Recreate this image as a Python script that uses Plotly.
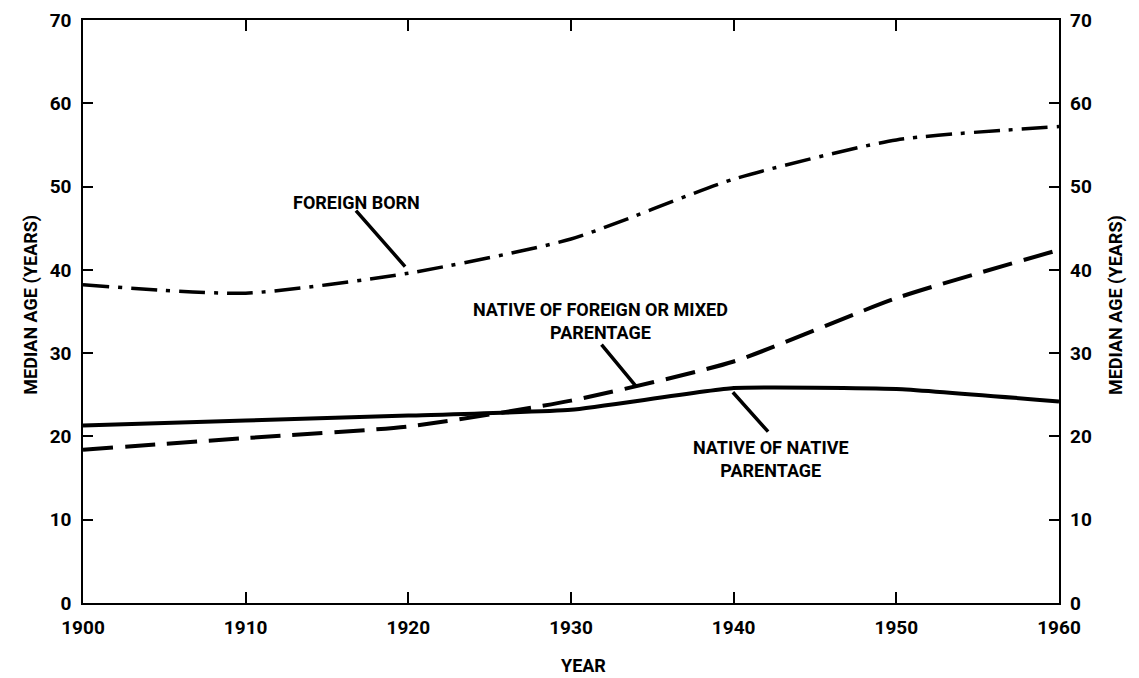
import plotly.graph_objects as go

years = [1900, 1910, 1920, 1930, 1940, 1950, 1960]
foreign_born = [38.2, 37.2, 39.6, 43.7, 50.9, 55.6, 57.2]
native_foreign_mixed = [18.4, 19.8, 21.2, 24.3, 29.0, 36.6, 42.4]
native_native = [21.3, 21.9, 22.5, 23.2, 25.8, 25.7, 24.2]

x_ticks = [1900, 1910, 1920, 1930, 1940, 1950, 1960]
y_ticks = [0, 10, 20, 30, 40, 50, 60, 70]

FONT = "Roboto, Liberation Sans, sans-serif"

fig = go.Figure()
fig.add_trace(go.Scatter(x=years, y=foreign_born, mode="lines",
                         line=dict(color="black", width=3.5, dash="26px,9px,4px,9px",
                                   shape="spline", smoothing=0.6),
                         name="Foreign born", hoverinfo="skip"))
fig.add_trace(go.Scatter(x=years, y=native_foreign_mixed, mode="lines",
                         line=dict(color="black", width=4, dash="30px,12px",
                                   shape="spline", smoothing=0.6),
                         name="Native of foreign or mixed parentage", hoverinfo="skip"))
fig.add_trace(go.Scatter(x=years, y=native_native, mode="lines",
                         line=dict(color="black", width=4, shape="spline", smoothing=0.4),
                         name="Native of native parentage", hoverinfo="skip"))
# invisible copy to activate the right-hand axis
fig.add_trace(go.Scatter(x=years, y=native_native, mode="lines", yaxis="y2",
                         line=dict(color="rgba(0,0,0,0)", width=0),
                         showlegend=False, hoverinfo="skip"))

tickfont = dict(family=FONT, size=19, color="black", weight="bold")

fig.update_layout(
    width=1131, height=670,
    margin=dict(l=75, r=80, t=12, b=75, autoexpand=False),
    paper_bgcolor="white", plot_bgcolor="white",
    showlegend=False,
    xaxis=dict(range=[1900, 1960], tickvals=x_ticks, ticktext=[str(v) for v in x_ticks],
               ticks="inside", ticklen=11, tickwidth=1.5, tickcolor="black",
               showline=True, linecolor="black", linewidth=1.5, mirror="ticks",
               showgrid=False, zeroline=False, tickfont=tickfont,
               ticklabelstandoff=6, automargin=False, ticklabeloverflow="allow"),
    yaxis=dict(range=[0, 70], tickvals=y_ticks, ticktext=[str(v) for v in y_ticks],
               ticks="inside", ticklen=10, tickwidth=1.5, tickcolor="black",
               showline=True, linecolor="black", linewidth=1.5, mirror="ticks",
               showgrid=False, zeroline=False, tickfont=tickfont,
               ticklabelstandoff=6, automargin=False, ticklabeloverflow="allow"),
    yaxis2=dict(range=[0, 70], tickvals=y_ticks, ticktext=[str(v) for v in y_ticks],
                overlaying="y", side="right", ticks="", showline=False,
                showgrid=False, zeroline=False, tickfont=tickfont,
                ticklabelstandoff=10, automargin=False, ticklabeloverflow="allow"),
)

lab = dict(family=FONT, size=18, color="black", weight="bold")
ttl = dict(family=FONT, size=18, color="black", weight="bold")

# axis titles
fig.add_annotation(text="YEAR", xref="paper", yref="paper", x=0.513, y=-0.108,
                   showarrow=False, font=ttl, yanchor="middle")
fig.add_annotation(text="MEDIAN AGE (YEARS)", xref="paper", yref="paper", x=-0.066, y=0.511,
                   showarrow=False, textangle=-90, font=ttl, yanchor="middle")
fig.add_annotation(text="MEDIAN AGE (YEARS)", xref="paper", yref="paper", x=1.0717, y=0.511,
                   showarrow=False, textangle=-90, font=ttl, yanchor="middle")

# series labels
fig.add_annotation(text="FOREIGN BORN", x=1916.8, y=48.1, showarrow=False, font=lab)
fig.add_annotation(text="NATIVE OF FOREIGN OR MIXED<br>PARENTAGE", x=1931.8, y=33.8,
                   showarrow=False, font=lab)
fig.add_annotation(text="NATIVE OF NATIVE<br>PARENTAGE", x=1942.3, y=17.3,
                   showarrow=False, font=lab)

# pointers
arrow = dict(showarrow=True, arrowhead=0, arrowwidth=3.5, arrowcolor="black",
             axref="x", ayref="y", text="")
fig.add_annotation(x=1919.8, y=40.4, ax=1916.7, ay=47.3, **arrow)
fig.add_annotation(x=1934.0, y=26.0, ax=1931.8, ay=31.2, **arrow)
fig.add_annotation(x=1939.95, y=25.3, ax=1942.2, ay=20.4, **arrow)

fig.write_html("out.html")
